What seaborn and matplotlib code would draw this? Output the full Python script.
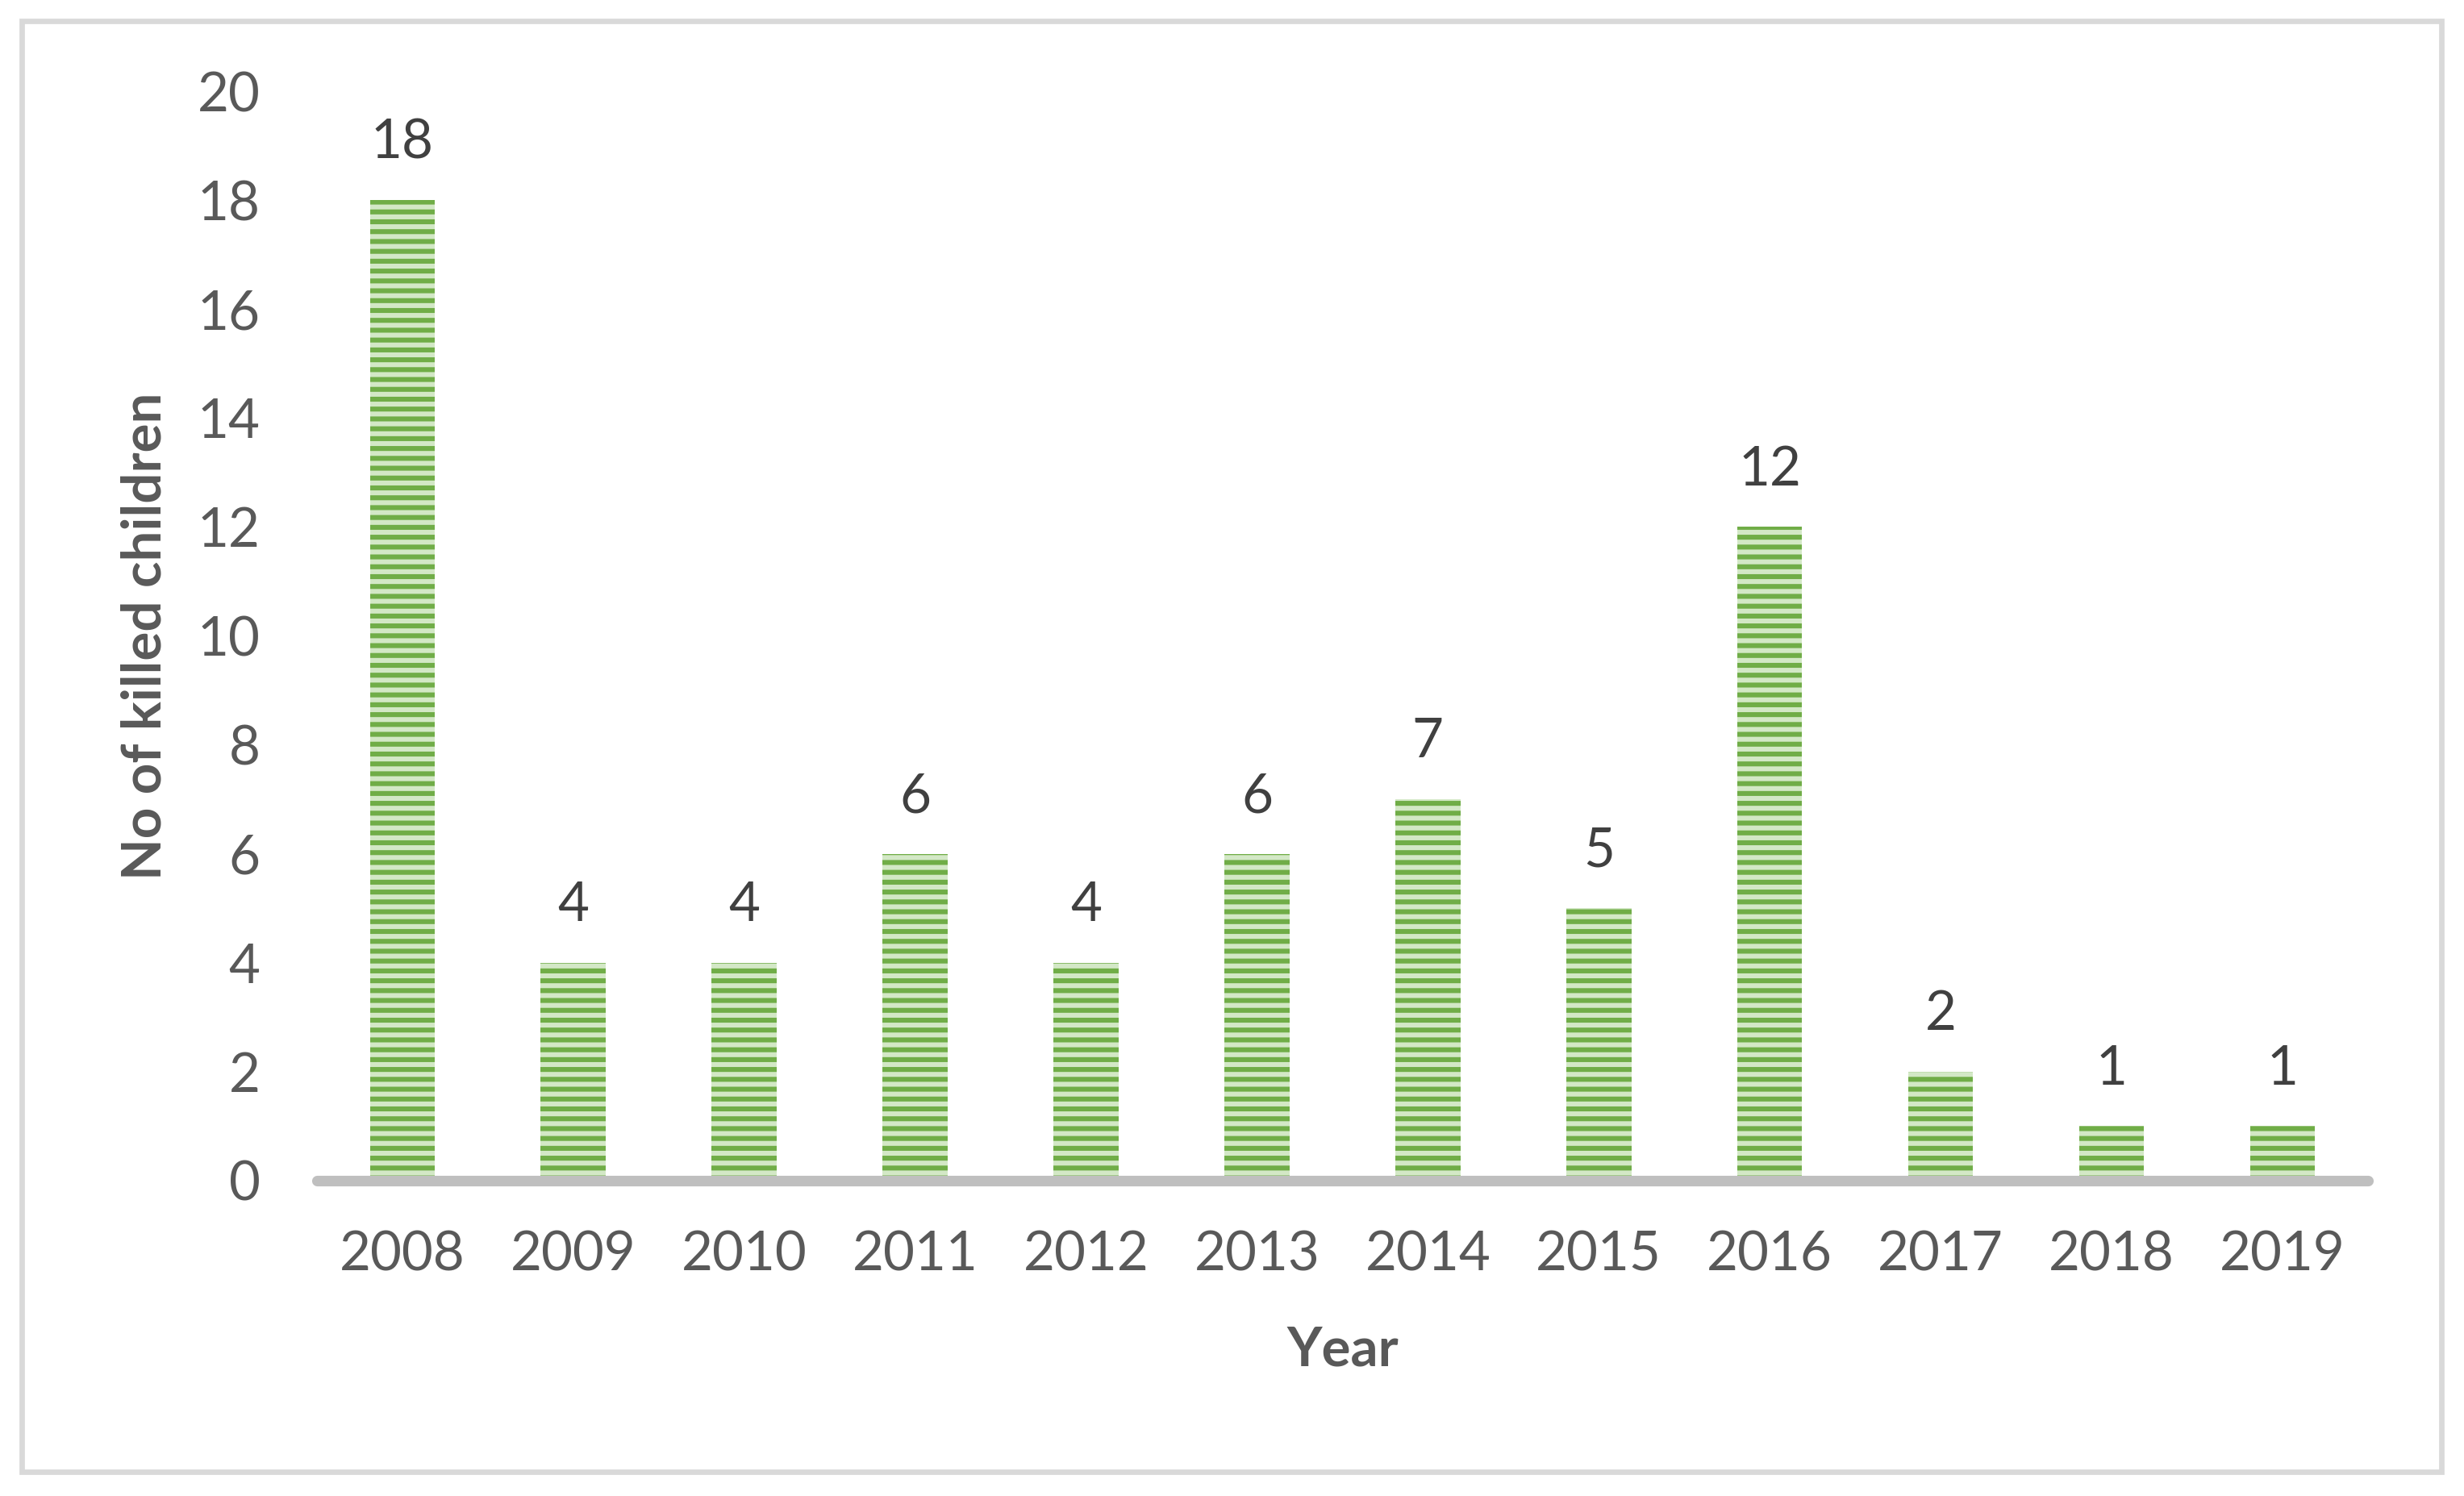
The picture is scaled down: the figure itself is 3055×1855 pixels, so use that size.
import matplotlib
matplotlib.use("Agg")
import matplotlib.pyplot as plt
import seaborn as sns
from matplotlib.patches import Rectangle

years = ['2008','2009','2010','2011','2012','2013','2014','2015','2016','2017','2018','2019']
killed = [18, 4, 4, 6, 4, 6, 7, 5, 12, 2, 1, 1]
yticks = [0, 2, 4, 6, 8, 10, 12, 14, 16, 18, 20]

sns.set_style("white")
plt.rcParams['font.family'] = ['Lato', 'DejaVu Sans']
plt.rcParams['hatch.linewidth'] = 2.0

fig = plt.figure(figsize=(3055/220, 1855/220), dpi=220)
ax = fig.add_axes([0.1286, 0.2108, 0.961 - 0.1286, 0.939 - 0.2108])

sns.barplot(x=years, y=killed, ax=ax, width=0.38, color='#d3e8c6',
            saturation=1, edgecolor='#70ad47', linewidth=0, hatch='---')

ax.set_ylim(0, 20)
ax.set_xlim(-0.5, 11.5)
ax.set_yticks(yticks)
ax.axhline(0, color='#bfbfbf', linewidth=4.3, zorder=5, clip_on=False)

for s in ax.spines.values():
    s.set_visible(False)
ax.tick_params(axis='y', length=0, pad=23, labelsize=22, labelcolor='#595959')
ax.tick_params(axis='x', length=0, pad=20, labelsize=22, labelcolor='#595959')

ax.bar_label(ax.containers[0], labels=[str(v) for v in killed], padding=13,
             fontsize=22, color='#404040')

ax.set_xlabel("Year", fontsize=22, fontweight='bold', color='#595959')
ax.set_ylabel("No of killed children", fontsize=22, fontweight='bold', color='#595959')
ax.xaxis.set_label_coords(0.5, -0.156)
ax.xaxis.label.set_va('center')
ax.yaxis.set_label_coords(-0.0834, 0.5)
ax.yaxis.label.set_va('center')

# outer frame
fig.patches.append(Rectangle((27/3055, 1 - 1825/1855), (3027 - 27)/3055, (1825 - 26)/1855,
                             transform=fig.transFigure, fill=False,
                             edgecolor='#d9d9d9', linewidth=2.2))

fig.savefig("out.png", dpi=220)
